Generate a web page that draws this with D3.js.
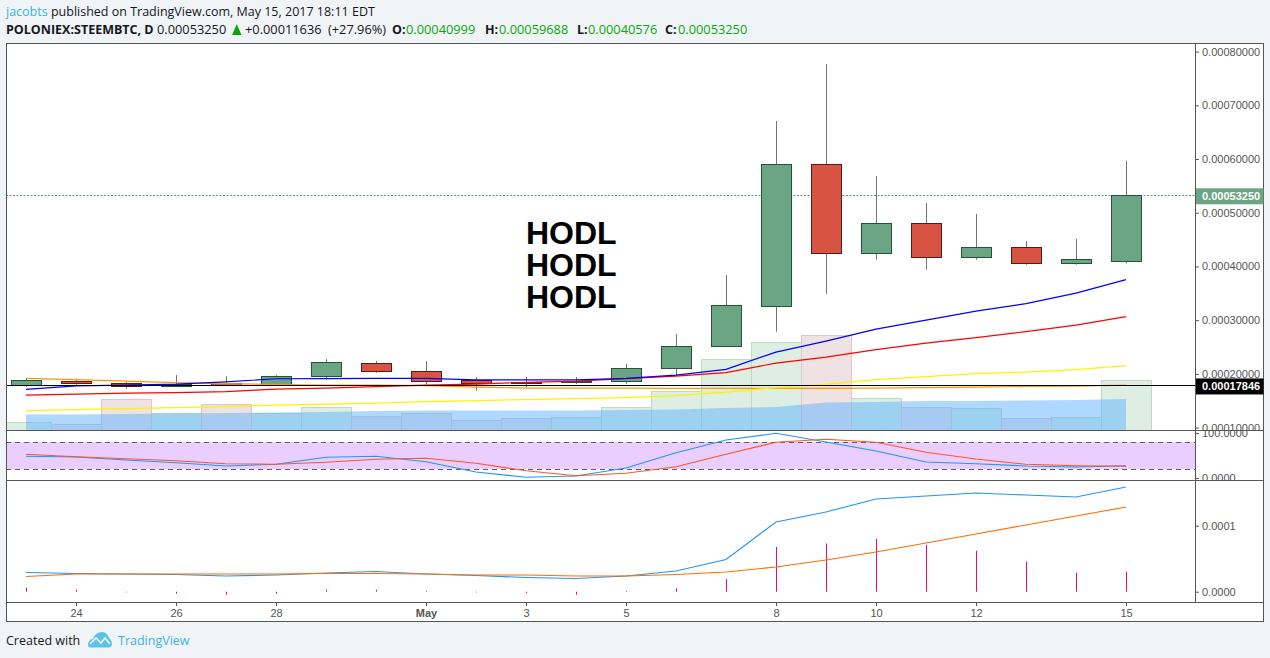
<!DOCTYPE html>
<html>
<head>
<meta charset="utf-8">
<script src="https://cdn.jsdelivr.net/npm/d3@7"></script>
<style>
  html, body { margin: 0; padding: 0; background: #f1f4f7; overflow: hidden; }
  .hdr { font-family: "Open Sans", sans-serif; font-size: 12.5px; fill: #131722; }
  .axis text { font-family: "Liberation Sans", Arial, sans-serif; font-size: 11px; fill: #555; }
  .axis line { stroke: #555; }
  .axis path { display: none; }
</style>
</head>
<body>
<script>
// Apr 23 -> May 15 2017, one entry per day
const days = ['2017-04-23','2017-04-24','2017-04-25','2017-04-26','2017-04-27','2017-04-28','2017-04-29','2017-04-30',
  '2017-05-01','2017-05-02','2017-05-03','2017-05-04','2017-05-05','2017-05-06','2017-05-07','2017-05-08','2017-05-09',
  '2017-05-10','2017-05-11','2017-05-12','2017-05-13','2017-05-14','2017-05-15'].map(d => new Date(d + 'T00:00:00Z'));

const opens  = [.0001791,.000186,.0001823,.0001767,.0001829,.0001791,.0001953,.0002196,.0002047,.0001885,.0001853,.0001853,.000186,.0002102,.0002512,.0003257,.0005901,.0004244,.0004803,.0004169,.0004356,.0004058,.00040999];
const highs  = [.0001916,.0001907,.0001847,.0001978,.0001959,.0001978,.0002276,.0002238,.0002238,.000194,.000194,.000194,.0002183,.0002741,.000384,.0006708,.0007769,.0005683,.0005181,.0004976,.0004473,.000451,.00059688];
const lows   = [.000176,.0001791,.0001722,.0001763,.0001778,.0001786,.0001898,.000202,.0001805,.0001685,.0001754,.000181,.0001816,.0001959,.0002512,.0002784,.0003492,.0004125,.0003939,.0004125,.0004032,.0004032,.00040576];
const closes = [.0001879,.0001823,.0001767,.000181,.0001791,.0001953,.0002214,.0002047,.000186,.0001834,.0001834,.0001872,.0002102,.0002512,.0003276,.0005901,.0004244,.0004803,.0004169,.0004356,.0004058,.0004132,.0005325];

const maBlue   = [.0001711,.0001778,.0001791,.000181,.0001853,.0001909,.0001912,.0001916,.0001916,.000189,.000189,.000189,.0001916,.0001978,.0002084,.0002406,.0002611,.0002834,.0003002,.000317,.0003309,.0003505,.0003756];
const maRed    = [.0001605,.0001624,.0001643,.0001652,.000167,.0001717,.0001736,.0001764,.0001791,.000181,.0001842,.0001866,.0001912,.0001959,.0002024,.0002201,.0002313,.0002453,.0002574,.0002676,.0002788,.0002909,.0003067];
const maYellow = [.0001317,.0001335,.0001354,.0001372,.0001391,.0001419,.0001437,.0001456,.0001484,.0001503,.0001521,.000154,.0001559,.0001596,.0001661,.0001745,.000181,.0001894,.000195,.0002006,.0002034,.000208,.0002155];
const maOrange = [.0001916,.0001894,.0001866,.0001838,.000182,.0001801,.0001791,.0001791,.0001782,.0001754,.0001736,.0001736,.0001736,.000173,.000173,.000173,.000173,.0001736,.0001745,.0001754,.0001767,.0001773,.0001791];

const volume   = [8,6,31,17,26,17,23,14,17,10,12,13,23,39,71,88,95,32,23,22,12,13,50];
const volumeMa = [15.5,15.5,16,16.5,17,17.5,18,19,19.5,19.5,19.5,19.5,20,20.5,22,23,27.5,28,29,29,29.5,30,31];

const stochK = [48.2,46.7,40,34,26.7,30.4,46,48.2,36.2,13.3,1.6,4.4,22.2,56.2,84.4,99.3,80,60,35.6,31.8,26.7,24.4,27.3];
const stochD = [52.7,47.3,42.9,38.4,31.8,30.4,34.9,41.6,43.8,32.7,16.2,5.1,10.4,25.1,52.7,79.3,86,79.3,57.1,42.2,30.4,27.3,26];

const macd   = [.0000291,.0000276,.0000268,.0000261,.0000238,.0000253,.0000283,.0000306,.0000268,.0000245,.0000215,.00002,.0000238,.0000314,.0000488,.0001056,.0001208,.0001405,.000145,.0001495,.0001465,.0001435,.0001586];
const signal = [.000023,.0000268,.0000268,.0000268,.0000268,.0000268,.0000276,.0000276,.0000268,.0000253,.0000253,.0000238,.0000238,.0000261,.0000298,.0000374,.000048,.0000602,.0000738,.0000874,.0001011,.0001147,.0001283];
const hist   = [.000006,.000003,-.000001,-.000003,-.0000045,-.000003,.000003,.000003,.000001,-.000001,-.000002,-.0000045,.000001,.000005,.000019,.0000677,.000073,.0000803,.0000712,.000062,.0000455,.0000288,.0000303];

const priceTicks = [.0008,.0007,.0006,.0005,.0004,.0003,.0002,.0001];
const rsiTicks = [100,0];
const macdTicks = [.0001,0];
const dayTicks = ['2017-04-24','2017-04-26','2017-04-28','2017-05-01','2017-05-03','2017-05-05','2017-05-08','2017-05-10','2017-05-12','2017-05-15'].map(d => new Date(d + 'T00:00:00Z'));
const lastPrice = .0005325, maPrice = .00017846;

const width = 1270, height = 658;
const left = 6, right = 1195, outer = 1264, frameTop = 43, frameBottom = 622;
const mainBottom = 430, rsiBottom = 480, macdBottom = 602;

const green = '#6ba583', greenEdge = '#225437', red = '#d75442', redEdge = '#5b1a13';

const x = d3.scaleUtc().domain([days[0], days[22]]).range([26, 1126]);
const y = d3.scaleLinear().domain([.0001, .0008]).range([427.6, 51.6]);
const yVol = d3.scaleLinear().domain([0, 100]).range([mainBottom, mainBottom - 100]);
const yRsi = d3.scaleLinear().domain([0, 100]).range([478, 433]);
const yMacd = d3.scaleLinear().domain([0, .0001]).range([591.7, 525.7]);

const svg = d3.select('body').append('svg').attr('width', width).attr('height', height).style('display', 'block');
const defs = svg.append('defs');

function clip(id, x0, y0, x1, y1) {
  defs.append('clipPath').attr('id', id).append('rect')
    .attr('x', x0).attr('y', y0).attr('width', x1 - x0).attr('height', y1 - y0);
  return svg.append('g').attr('clip-path', `url(#${id})`);
}

svg.append('rect').attr('x', left).attr('y', frameTop).attr('width', outer - left).attr('height', frameBottom - frameTop).attr('fill', '#fff');

const main = clip('main', left, frameTop, right, mainBottom);
const pane2 = clip('rsi', left, mainBottom, right, rsiBottom);
const pane3 = clip('macd', left, rsiBottom, right, macdBottom);

// volume
main.selectAll('.vol').data(days).enter().append('rect').attr('class', 'vol')
  .attr('x', d => x(d) - 24.5)
  .attr('width', 50)
  .attr('y', (d, i) => yVol(volume[i]) + .5)
  .attr('height', (d, i) => mainBottom - yVol(volume[i]) + 2)
  .attr('fill', (d, i) => closes[i] >= opens[i] ? '#deeee2' : '#efe2e2')
  .attr('stroke', (d, i) => closes[i] >= opens[i] ? '#bcdcc4' : '#dcc8c8');

main.append('path').datum(days)
  .attr('fill', '#64b5ff').attr('fill-opacity', .52)
  .attr('d', d3.area().x(d => x(d)).y0(mainBottom).y1((d, i) => yVol(volumeMa[i])));

// last price line
main.append('line').attr('x1', left).attr('x2', right).attr('y1', Math.round(y(lastPrice)) + .5).attr('y2', Math.round(y(lastPrice)) + .5)
  .attr('stroke', '#5f9478').attr('stroke-dasharray', '2,1.5');

// candles
main.selectAll('.wick').data(days).enter().append('line').attr('class', 'wick')
  .attr('x1', d => x(d) + .5).attr('x2', d => x(d) + .5)
  .attr('y1', (d, i) => y(highs[i])).attr('y2', (d, i) => y(lows[i]))
  .attr('stroke', '#737375');

main.selectAll('.candle').data(days).enter().append('rect').attr('class', 'candle')
  .attr('x', d => x(d) - 14.5)
  .attr('width', 30)
  .attr('y', (d, i) => Math.round(y(Math.max(opens[i], closes[i]))) + .5)
  .attr('height', (d, i) => Math.max(1, Math.round(Math.abs(y(opens[i]) - y(closes[i])))))
  .attr('fill', (d, i) => closes[i] >= opens[i] ? green : red)
  .attr('stroke', (d, i) => closes[i] >= opens[i] ? greenEdge : redEdge);

// moving averages
[[maOrange, '#ff9800'], [maYellow, '#fff200'], [maRed, '#ff0000'], [maBlue, '#0000ff']].forEach(s => {
  main.append('path').datum(days).attr('fill', 'none').attr('stroke', s[1]).attr('stroke-width', 1.2)
    .attr('d', d3.line().x(d => x(d)).y((d, i) => y(s[0][i])));
});

main.append('line').attr('x1', left).attr('x2', right).attr('y1', y(maPrice)).attr('y2', y(maPrice))
  .attr('stroke', '#000').attr('stroke-width', 1.1);

['HODL', 'HODL', 'HODL'].forEach((t, i) => {
  main.append('text').attr('x', 526).attr('y', 243.5 + i * 32)
    .style('font-family', '"Liberation Sans", Arial, sans-serif')
    .style('font-size', '32px').style('font-weight', 'bold').attr('fill', '#000').text(t);
});

// stochastic pane
pane2.append('rect').attr('x', left + 1).attr('width', right - left - 1)
  .attr('y', yRsi(80)).attr('height', yRsi(20) - yRsi(80)).attr('fill', '#e9ceff');
[80, 20].forEach(v => {
  pane2.append('line').attr('x1', left).attr('x2', right).attr('y1', yRsi(v) + .5).attr('y2', yRsi(v) + .5)
    .attr('stroke', '#635c70').attr('stroke-dasharray', '5,4');
});
[[stochK, '#2196f3'], [stochD, '#ff5722']].forEach(s => {
  pane2.append('path').datum(days).attr('fill', 'none').attr('stroke', s[1]).attr('stroke-width', 1.1)
    .attr('d', d3.line().x(d => x(d)).y((d, i) => yRsi(s[0][i])));
});

// macd pane
pane3.selectAll('.hist').data(days).enter().append('line').attr('class', 'hist')
  .attr('x1', d => x(d) + .5).attr('x2', d => x(d) + .5)
  .attr('y1', yMacd(0)).attr('y2', (d, i) => yMacd(hist[i]))
  .attr('stroke', '#ff0066');
[[macd, '#2196f3'], [signal, '#ff6d00']].forEach(s => {
  pane3.append('path').datum(days).attr('fill', 'none').attr('stroke', s[1]).attr('stroke-width', 1.1)
    .attr('d', d3.line().x(d => x(d)).y((d, i) => yMacd(s[0][i])));
});

// right axes, each clipped to its own pane
clip('axisMain', right, frameTop, outer, mainBottom).append('g').attr('class', 'axis')
  .attr('transform', `translate(${right},0)`)
  .call(d3.axisRight(y).tickValues(priceTicks).tickSize(4).tickPadding(3).tickFormat(d3.format('.8f')));
clip('axisRsi', right, mainBottom, outer, rsiBottom).append('g').attr('class', 'axis')
  .attr('transform', `translate(${right},0)`)
  .call(d3.axisRight(yRsi).tickValues(rsiTicks).tickSize(4).tickPadding(3).tickFormat(d3.format('.4f')));
clip('axisMacd', right, rsiBottom, outer, macdBottom).append('g').attr('class', 'axis')
  .attr('transform', `translate(${right},0)`)
  .call(d3.axisRight(yMacd).tickValues(macdTicks).tickSize(4).tickPadding(3).tickFormat(d3.format('.4f')));

// bottom axis
const bottomAxis = svg.append('g').attr('class', 'axis')
  .attr('transform', `translate(0,${macdBottom})`)
  .call(d3.axisBottom(x).tickValues(dayTicks).tickSize(4).tickPadding(3)
    .tickFormat(d => d.getUTCDate() === 1 ? 'May' : d3.utcFormat('%-d')(d)));
bottomAxis.selectAll('text').filter(d => d.getUTCDate() === 1).style('font-weight', 'bold');

// frame and separators
svg.append('rect').attr('x', left + .5).attr('y', frameTop + .5).attr('width', outer - left - 1).attr('height', frameBottom - frameTop - 1)
  .attr('fill', 'none').attr('stroke', '#555');
[mainBottom, rsiBottom, macdBottom].forEach(v => {
  svg.append('line').attr('x1', left).attr('x2', outer).attr('y1', v + .5).attr('y2', v + .5).attr('stroke', '#555');
});
svg.append('line').attr('x1', right + .5).attr('x2', right + .5).attr('y1', frameTop).attr('y2', macdBottom).attr('stroke', '#555');

// price labels
[[lastPrice, green], [maPrice, '#000']].forEach(s => {
  svg.append('rect').attr('x', right + 1).attr('width', outer - right - 1.5)
    .attr('y', y(s[0]) - 7).attr('height', 16).attr('fill', s[1]);
  svg.append('text').attr('x', right + 7).attr('y', y(s[0]) + 5)
    .style('font-family', '"Liberation Sans", Arial, sans-serif')
    .style('font-size', '11px').style('font-weight', 'bold').attr('fill', '#fff')
    .text(d3.format('.8f')(s[0]));
});

// header
const line1 = svg.append('text').attr('class', 'hdr').attr('x', 6).attr('y', 16);
line1.append('tspan').style('fill', '#3bb3e4').text('jacobts');
line1.append('tspan').text(' published on TradingView.com, May 15, 2017 18:11 EDT');

const up = '#0aa70a';
[
  [6, 'POLONIEX:STEEMBTC, D', 'bold', null],
  [157, '0.00053250', null, null],
  [245, '+0.00011636', null, null],
  [328, '(+27.96%)', null, null],
  [392, 'O:', 'bold', null],
  [406, '0.00040999', null, up],
  [485, 'H:', 'bold', null],
  [499, '0.00059688', null, up],
  [577, 'L:', 'bold', null],
  [588, '0.00040576', null, up],
  [665, 'C:', 'bold', null],
  [678, '0.00053250', null, up]
].forEach(t => {
  const n = svg.append('text').attr('class', 'hdr').attr('x', t[0]).attr('y', 34).text(t[1]);
  if (t[2]) n.style('font-weight', t[2]);
  else n.style('font-size', '12.8px');
  if (t[3]) n.style('fill', t[3]);
});
svg.append('path').attr('d', 'M232,35L236.8,24L241.5,35Z').attr('fill', '#0aa70a');

// footer
svg.append('text').attr('class', 'hdr').attr('x', 6).attr('y', 645).text('Created with');
svg.append('text').attr('class', 'hdr').attr('x', 118).attr('y', 645).style('fill', '#3bb3e4').text('TradingView');
svg.append('path')
  .attr('d', 'M88,645C88,641 91,639 93,639C94,635 98,632 102,632C106,632 108,635 109,638C111,639 112,642 112,645C111,647 110,647.5 108,647.5L91,647.5C89,647.5 88,647 88,645Z')
  .attr('fill', '#5cc3e8');
svg.append('path').attr('d', 'M90,644L96,638L101,643L105,638L110,644').attr('fill', 'none').attr('stroke', '#f1f4f7').attr('stroke-width', 1.6);
</script>
</body>
</html>
